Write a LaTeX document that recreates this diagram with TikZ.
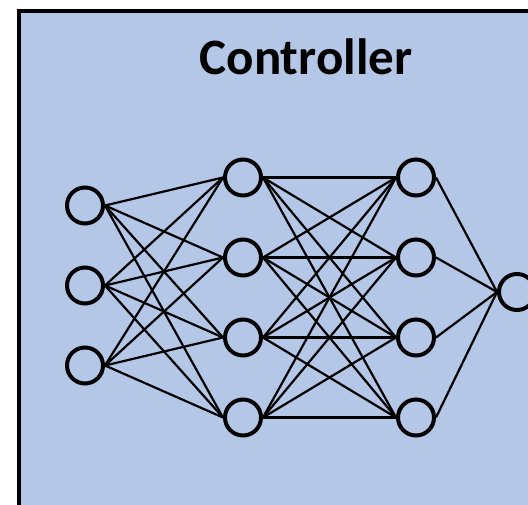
\documentclass[tikz,border=0pt]{standalone}
\usepackage{fontspec}
\setmainfont{Carlito}
\usepackage{tikz}

\definecolor{ctrlblue}{RGB}{180,199,231}

\begin{document}
\begin{tikzpicture}[x=1pt,y=-1pt,neuron/.style={shape=circle,draw=black,line width=4pt,minimum size=36pt,inner sep=0pt},wire/.style={line width=2.2pt},title/.style={anchor=base,font=\bfseries\fontsize{51}{60}\selectfont}]
\def\dy{80};
\def\xa{85};
\def\xb{243};
\def\xc{416};
\def\xd{517};

\useasboundingbox (0,0) rectangle (528,505);
\clip (0,0) rectangle (528,505);

\draw[fill=ctrlblue,line width=4pt] (19,11) rectangle (560,540);
\node[title] (T) at (306,75) {Controller};

\node[neuron] (I1) at (\xa,285.5-\dy) {};
\node[neuron] (I2) at (\xa,285.5) {};
\node[neuron] (I3) at (\xa,285.5+\dy) {};

\node[neuron] (H1) at (\xb,297.5-1.5*\dy) {};
\node[neuron] (H2) at (\xb,297.5-0.5*\dy) {};
\node[neuron] (H3) at (\xb,297.5+0.5*\dy) {};
\node[neuron] (H4) at (\xb,297.5+1.5*\dy) {};

\node[neuron] (G1) at (\xc,297.5-1.5*\dy) {};
\node[neuron] (G2) at (\xc,297.5-0.5*\dy) {};
\node[neuron] (G3) at (\xc,297.5+0.5*\dy) {};
\node[neuron] (G4) at (\xc,297.5+1.5*\dy) {};

\node[neuron] (O) at (\xd,292) {};

% input -> first hidden
\draw[wire] (I1.east) -- (H1.west);
\draw[wire] (I1.east) -- (H2.west);
\draw[wire] (I1.east) -- (H3.west);
\draw[wire] (I1.east) -- (H4.west);
\draw[wire] (I2.east) -- (H1.west);
\draw[wire] (I2.east) -- (H2.west);
\draw[wire] (I2.east) -- (H3.west);
\draw[wire] (I2.east) -- (H4.west);
\draw[wire] (I3.east) -- (H1.west);
\draw[wire] (I3.east) -- (H2.west);
\draw[wire] (I3.east) -- (H3.west);
\draw[wire] (I3.east) -- (H4.west);

% first hidden -> second hidden
\draw[wire] (H1.east) -- (G1.west);
\draw[wire] (H1.east) -- (G2.west);
\draw[wire] (H1.east) -- (G3.west);
\draw[wire] (H1.east) -- (G4.west);
\draw[wire] (H2.east) -- (G1.west);
\draw[wire] (H2.east) -- (G2.west);
\draw[wire] (H2.east) -- (G3.west);
\draw[wire] (H2.east) -- (G4.west);
\draw[wire] (H3.east) -- (G1.west);
\draw[wire] (H3.east) -- (G2.west);
\draw[wire] (H3.east) -- (G3.west);
\draw[wire] (H3.east) -- (G4.west);
\draw[wire] (H4.east) -- (G1.west);
\draw[wire] (H4.east) -- (G2.west);
\draw[wire] (H4.east) -- (G3.west);
\draw[wire] (H4.east) -- (G4.west);

% second hidden -> output
\draw[wire] (G1.east) -- (O.west);
\draw[wire] (G2.east) -- (O.west);
\draw[wire] (G3.east) -- (O.west);
\draw[wire] (G4.east) -- (O.west);
\end{tikzpicture}
\end{document}
